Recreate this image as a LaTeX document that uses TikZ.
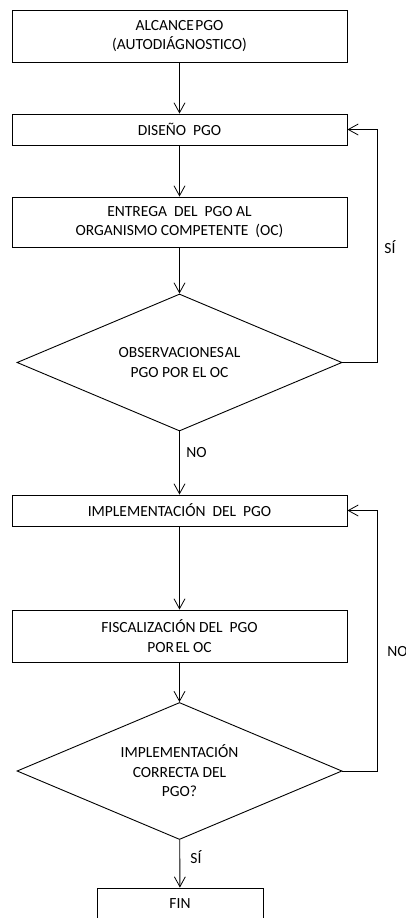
\documentclass[tikz,border=0pt]{standalone}
\usepackage{fontspec}
\setmainfont{Carlito}
\usetikzlibrary{arrows.meta,shapes.geometric}

\begin{document}
\begin{tikzpicture}[x=1pt,y=-1pt,
  font=\fontsize{15.5}{19.5}\selectfont,
  every path/.style={line width=0.9pt},
  box/.style={draw, rectangle, minimum width=335pt, inner sep=0pt, align=center},
  decision/.style={draw, diamond, shape aspect=2.35, minimum width=325pt,
    minimum height=137pt, inner sep=0pt, align=center},
  arr/.style={-{Straight Barb[length=10pt,width=11pt,line width=0.8pt]}},
  lbl/.style={anchor=west, inner sep=0pt}]

  % page area
  \useasboundingbox (0,0) rectangle (406,918);

  % main column
  \node[box, minimum height=52pt] (alc) at (179.5,36) {ALCANCE\hspace{1.5pt}PGO\\(AUTODIÁGNOSTICO)};
  \node[box, minimum height=31pt] (dis) at (179.5,129.5) {DISEÑO\ \ PGO};
  \node[box, minimum height=50pt] (ent) at (179.5,222) {ENTREGA\ \ DEL\ \ PGO AL\\ORGANISMO COMPETENTE\ \ (OC)};
  \node[decision] (obs) at (179.5,362.5) {OBSERVACIONES\hspace{0.8pt}AL\\PGO POR EL OC};
  \node[box, minimum height=31pt] (imp) at (179.5,510.5) {IMPLEMENTACIÓN\ \ DEL\ \ PGO};
  \node[box, minimum height=52pt] (fis) at (179.5,636) {FISCALIZACIÓN DEL\ \ PGO\\POR\hspace{1.5pt}EL OC};
  \node[decision] (cor) at (179.5,771) {IMPLEMENTACIÓN\\CORRECTA DEL\\PGO?};
  \node[draw, rectangle, minimum width=166pt, minimum height=60pt, inner sep=0pt] (fin) at (180,918) {};
  \node (fintxt) at (180,904) {FIN};

  % downward flow
  \draw[arr] (alc) -- (dis);
  \draw[arr] (dis) -- (ent);
  \draw[arr] (ent) -- (obs);
  \draw[arr] (obs) -- (imp);
  \draw[arr] (imp) -- (fis);
  \draw[arr] (fis) -- (cor);
  \draw[arr] (cor) -- (fin);

  % return loops
  \draw[arr] (obs.east) -| ([xshift=30pt]dis.east) -- (dis.east);
  \draw[arr] (cor.east) -| ([xshift=30pt]imp.east) -- (imp.east);

  % branch labels
  \node[lbl] (si1) at (384,247) {SÍ};
  \node[lbl] (no1) at (186,453) {NO};
  \node[lbl] (no2) at (387,652) {NO};
  \node[lbl] (si2) at (190,857) {SÍ};
\end{tikzpicture}
\end{document}
